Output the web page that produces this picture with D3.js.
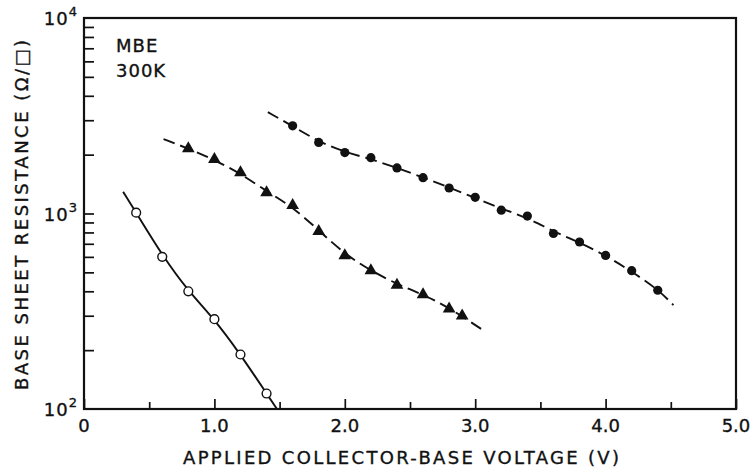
<!DOCTYPE html>
<html>
<head>
<meta charset="utf-8">
<script src="https://cdn.jsdelivr.net/npm/d3@7"></script>
<style>
  body { margin: 0; background: #fff; }
  text { font-family: "DejaVu Sans", sans-serif; fill: #111; stroke: #111; stroke-width: 0.35; }
</style>
</head>
<body>
<svg id="chart" width="751" height="469"></svg>
<script>
// measured points (V, ohm/sq)
var openV = [0.4, 0.6, 0.8, 1.0, 1.2, 1.4];
var openR = [1010, 600, 400, 288, 190, 120];
var triV = [0.8, 1.0, 1.2, 1.4, 1.6, 1.8, 2.0, 2.2, 2.4, 2.6, 2.8, 2.9];
var triR = [2150, 1890, 1620, 1280, 1100, 810, 610, 510, 430, 385, 325, 300];
var dotV = [1.6, 1.8, 2.0, 2.2, 2.4, 2.6, 2.8, 3.0, 3.2, 3.4, 3.6, 3.8, 4.0, 4.2, 4.4];
var dotR = [2810, 2310, 2050, 1930, 1710, 1525, 1350, 1210, 1040, 970, 790, 715, 610, 510, 405];

// drawn fit curves
var openFitV = [0.3, 0.4, 0.6, 0.8, 1.0, 1.2, 1.4, 1.48];
var openFitR = [1290, 1010, 610, 400, 288, 190, 120, 100];
var triFitV = [0.61, 0.8, 1.0, 1.2, 1.4, 1.6, 1.8, 2.0, 2.2, 2.4, 2.6, 2.8, 3.08];
var triFitR = [2400, 2150, 1880, 1600, 1300, 1080, 820, 620, 510, 435, 385, 330, 248];
var dotFitV = [1.41, 1.6, 1.8, 2.0, 2.2, 2.4, 2.6, 2.8, 3.0, 3.2, 3.4, 3.6, 3.8, 4.0, 4.2, 4.4, 4.52];
var dotFitR = [3300, 2800, 2330, 2060, 1900, 1710, 1530, 1360, 1200, 1060, 950, 810, 710, 610, 505, 410, 340];

var xMajor = [0, 1, 2, 3, 4, 5];
var xMajorLabels = ["0", "1.0", "2.0", "3.0", "4.0", "5.0"];
var xMinor = [0.5, 1.5, 2.5, 3.5, 4.5];
var yDecades = [100, 1000, 10000];
var yDecadeExp = ["2", "3", "4"];

var svg = d3.select("#chart");
var pl = 84, pr = 736, pt = 18, pb = 409;

var x = d3.scaleLinear().domain([0, 5]).range([pl, pr]);
var y = d3.scaleLog().domain([100, 10000]).range([pb, pt]);

function zip(a, b) {
  return a.map(function(v, i) { return [v, b[i]]; });
}

// minor y ticks 2..9 per decade
var yMinor = [];
yDecades.slice(0, 2).forEach(function(d) {
  for (var k = 2; k <= 9; k++) yMinor.push(d * k);
});

//ticks pointing inward
svg.append("g")
  .attr("transform", "translate(0," + pb + ")")
  .call(d3.axisBottom(x).tickValues(xMajor).tickSize(-10).tickFormat(""))
  .call(function(g) { g.select(".domain").remove(); });
svg.append("g")
  .attr("transform", "translate(0," + pb + ")")
  .call(d3.axisBottom(x).tickValues(xMinor).tickSize(-7).tickFormat(""))
  .call(function(g) { g.select(".domain").remove(); });
svg.append("g")
  .attr("transform", "translate(" + pl + ",0)")
  .call(d3.axisLeft(y).tickValues(yMinor.concat([1000])).tickSize(-10).tickFormat(""))
  .call(function(g) { g.select(".domain").remove(); });
svg.selectAll(".tick line").attr("stroke", "#111").attr("stroke-width", 1.7);

// frame
svg.append("rect")
  .attr("x", pl).attr("y", pt)
  .attr("width", pr - pl).attr("height", pb - pt)
  .attr("fill", "none").attr("stroke", "#111").attr("stroke-width", 2.2);

// x tick labels
svg.append("g").selectAll("text")
  .data(xMajor)
  .enter().append("text")
  .attr("x", function(d) { return x(d); })
  .attr("y", pb + 23)
  .attr("text-anchor", "middle")
  .attr("font-size", 18)
  .text(function(d, i) { return xMajorLabels[i]; });

// y tick labels 10^n
var yl = svg.append("g").selectAll("text")
  .data(yDecades)
  .enter().append("text")
  .attr("x", pl - 7)
  .attr("y", function(d) { return y(d) + 7; })
  .attr("text-anchor", "end")
  .attr("font-size", 18);
yl.append("tspan").attr("letter-spacing", 1).text("10");
yl.append("tspan").attr("dy", -9).attr("font-size", 13)
  .text(function(d, i) { return yDecadeExp[i]; });

// axis titles
svg.append("text")
  .attr("x", 183).attr("y", 464)
  .attr("font-size", 18)
  .attr("textLength", 436).attr("lengthAdjust", "spacing")
  .text("APPLIED COLLECTOR-BASE VOLTAGE (V)");
svg.append("text")
  .attr("transform", "translate(28,390) rotate(-90)")
  .attr("font-size", 18)
  .attr("textLength", 350).attr("lengthAdjust", "spacing")
  .text("BASE SHEET RESISTANCE (\u03A9/\u25A1)");

svg.append("text").attr("x", 116).attr("y", 52).attr("font-size", 18)
  .attr("letter-spacing", 1).text("MBE");
svg.append("text").attr("x", 116).attr("y", 77).attr("font-size", 18)
  .attr("letter-spacing", 1).text("300K");

// fit curves
var line = d3.line()
  .x(function(d) { return x(d[0]); })
  .y(function(d) { return y(d[1]); })
  .curve(d3.curveBasis);

svg.append("path").datum(zip(openFitV, openFitR))
  .attr("d", line).attr("fill", "none").attr("stroke", "#111").attr("stroke-width", 1.9);
svg.append("path").datum(zip(triFitV, triFitR))
  .attr("d", line).attr("fill", "none").attr("stroke", "#111").attr("stroke-width", 1.9)
  .attr("stroke-dasharray", "12,6");
svg.append("path").datum(zip(dotFitV, dotFitR))
  .attr("d", line).attr("fill", "none").attr("stroke", "#111").attr("stroke-width", 1.9)
  .attr("stroke-dasharray", "12,6");

// markers
svg.append("g").selectAll("circle")
  .data(zip(openV, openR))
  .enter().append("circle")
  .attr("cx", function(d) { return x(d[0]); })
  .attr("cy", function(d) { return y(d[1]); })
  .attr("r", 4.4)
  .attr("fill", "#fff").attr("stroke", "#111").attr("stroke-width", 1.4);

var tri = d3.symbol().type(d3.symbolTriangle).size(70);
svg.append("g").selectAll("path")
  .data(zip(triV, triR))
  .enter().append("path")
  .attr("d", tri)
  .attr("transform", function(d) { return "translate(" + x(d[0]) + "," + y(d[1]) + ")"; })
  .attr("fill", "#111");

svg.append("g").selectAll("circle")
  .data(zip(dotV, dotR))
  .enter().append("circle")
  .attr("cx", function(d) { return x(d[0]); })
  .attr("cy", function(d) { return y(d[1]); })
  .attr("r", 4.6)
  .attr("fill", "#111");
</script>
</body>
</html>
